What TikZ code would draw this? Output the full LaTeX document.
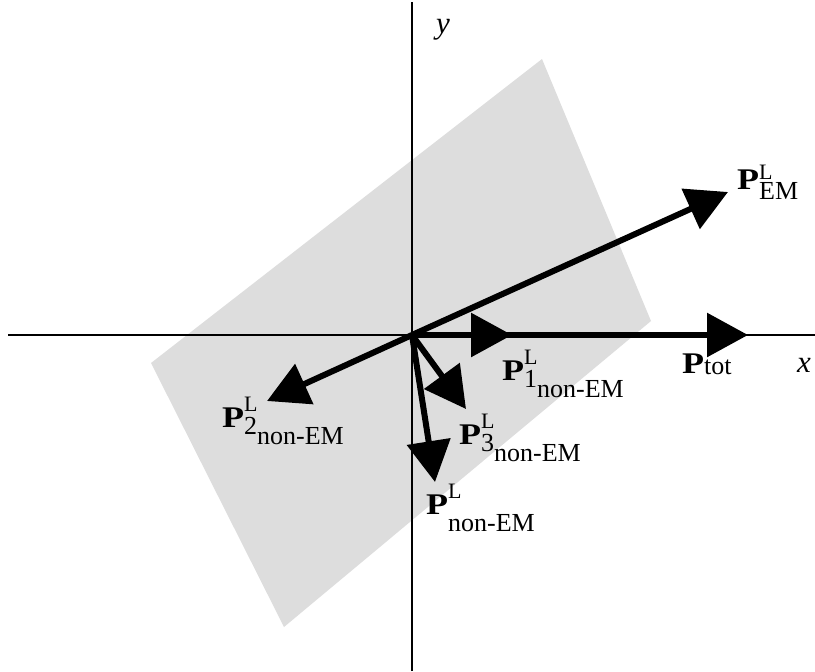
\documentclass[tikz,border=0pt]{standalone}
\usepackage{fontspec}
\setmainfont{Liberation Serif}
\usepackage{tikz}
\usetikzlibrary{arrows.meta, positioning, calc}
\definecolor{planegray}{RGB}{221,221,221}
\newcommand{\supfont}{\fontsize{22}{22}\selectfont}
\newcommand{\subfont}{\fontsize{26}{26}\selectfont}
\newcommand{\Pbold}{\scalebox{1.2}[1]{\textbf{P}}}
\newcommand{\subtxt}[2]{\raisebox{#1}{\subfont #2}}
\newcommand{\Pnon}[1]{\Pbold\rlap{\raisebox{16pt}{\supfont L}}\subtxt{-7pt}{#1}\subtxt{-17pt}{non-EM}}
\newcommand{\Plab}[1]{\Pbold\rlap{\raisebox{10pt}{\supfont L}}\subtxt{-10pt}{#1}}

\begin{document}
\begin{tikzpicture}[x=1pt, y=-1pt,
  axis/.style={line width=2pt},
  vec/.style={line width=6pt, -{Triangle[length=41pt, width=43pt]}},
  lab/.style={anchor=base west, inner sep=0pt, font=\fontsize{30}{32}\selectfont},
  axlab/.style={anchor=base west, inner sep=0pt, font=\fontsize{31}{32}\selectfont\itshape}
]
\useasboundingbox (0,0) rectangle (815,672);
% plane
\coordinate (c1) at (151,363);
\coordinate (c2) at (542,59);
\coordinate (c3) at (651,321);
\coordinate (c4) at (284,627);
\fill[planegray] (c1) -- (c2) -- (c3) -- (c4) -- cycle;
% axes
\coordinate (o) at (412,335);
\coordinate (xl) at (8,335);
\coordinate (xr) at (815,335);
\coordinate (yt) at (412,2);
\coordinate (yb) at (412,671);
\draw[axis] (xl) -- (xr);
\draw[axis] (yb) -- (yt);
\node[axlab] (xlab) at (797,372) {x};
\node[axlab] (ylab) at (436,33) {y};
% momenta
\coordinate (tem) at (728,192);
\coordinate (ttot) at (748,335);
\coordinate (tone) at (512,335);
\coordinate (ttwo) at (267,401);
\coordinate (tthree) at (466,409);
\coordinate (tnon) at (435,482);
\draw[vec] (o) -- (tem);
\draw[vec] (o) -- (ttot);
\draw[vec] (o) -- (tone);
\draw[vec] (o) -- (ttwo);
\draw[vec] (o) -- (tthree);
\draw[vec] (o) -- (tnon);
\node[lab] (pem) at (737,189) {\Plab{EM}};
\node[lab] (ptot) at (682,373) {\Pbold\subtxt{-1pt}{tot}};
\node[lab] (pone) at (502,380) {\Pnon{1}};
\node[lab] (ptwo) at (222,427) {\Pnon{2}};
\node[lab] (pthree) at (459,444) {\Pnon{3}};
\node[lab] (pnon) at (426,514) {\Pnon{}};
\end{tikzpicture}
\end{document}
